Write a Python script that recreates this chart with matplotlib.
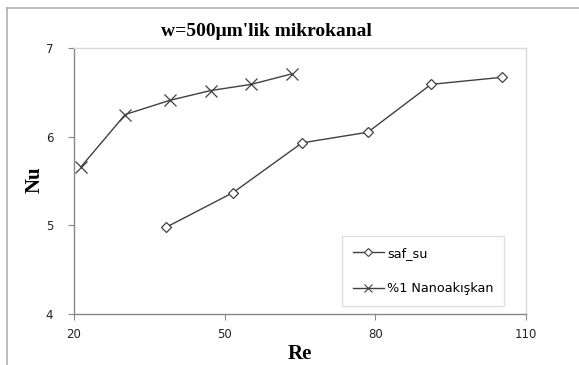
import matplotlib
matplotlib.use('Agg')
import matplotlib.pyplot as plt
from matplotlib.lines import Line2D

# data
re_su = [38.4, 51.7, 65.4, 78.5, 91.1, 105.3]
nu_su = [4.98, 5.37, 5.93, 6.05, 6.59, 6.67]
re_nano = [21.4, 30.2, 39.1, 47.2, 55.3, 63.5]
nu_nano = [5.66, 6.25, 6.41, 6.52, 6.59, 6.71]
x_ticks = [20, 50, 80, 110]
y_ticks = [4, 5, 6, 7]

LINE = '#404040'

fig = plt.figure(figsize=(5.79, 3.65), dpi=100)
ax = fig.add_axes([74/579, 1-314/365, 452/579, 266/365])

ax.plot(re_su, nu_su, color=LINE, lw=1.0, marker='D', ms=5,
        mfc='white', mec=LINE, mew=0.9, label='saf_su')
ax.plot(re_nano, nu_nano, color=LINE, lw=1.0, marker='x', ms=8,
        mec=LINE, mew=0.9, label='%1 Nanoakışkan')

ax.set_xlim(20, 110)
ax.set_ylim(4, 7)
ax.set_xticks(x_ticks)
ax.set_yticks(y_ticks)
ax.tick_params(direction='out', length=4, width=0.8, color='#888888',
               labelsize=8.5, labelcolor='#222222')
ax.tick_params(axis='y', pad=11)
ax.tick_params(axis='x', pad=6)
for s in ['left', 'bottom']:
    ax.spines[s].set_color('#888888')
    ax.spines[s].set_linewidth(1.0)
for s in ['top', 'right']:
    ax.spines[s].set_color('#d8d8d8')
    ax.spines[s].set_linewidth(1.0)

fig.text(300/579, 1-354/365, 'Re', ha='center', va='center',
         fontsize=15, fontweight='bold', family='Liberation Serif')
fig.text(35/579, 1-180/365, 'Nu', ha='center', va='center', rotation=90,
         fontsize=15, fontweight='bold', family='Liberation Serif')
fig.text(266/579, 1-31/365, "w=500μm'lik mikrokanal", ha='center', va='center',
         fontsize=14, fontweight='bold', family='Liberation Serif')

handles = [Line2D([], [], color=LINE, lw=1.0, marker='D', ms=4, mfc='white', mec=LINE, mew=0.8),
           Line2D([], [], color=LINE, lw=1.0, marker='x', ms=6, mec=LINE, mew=0.8)]
leg = ax.legend(handles, ['saf_su', '%1 Nanoakışkan'], loc='lower left',
                bbox_to_anchor=(342/579, 1-306/365, 162/579, 70/365),
                bbox_transform=fig.transFigure, mode='expand', borderaxespad=0,
                fontsize=9.2, labelspacing=1.75, handlelength=2.4, handletextpad=0.3,
                borderpad=0.85, fancybox=False, frameon=True)
leg.get_frame().set_edgecolor('#d8d8d8')
leg.get_frame().set_linewidth(1.0)

# outer chart border (left and top visible)
fig.add_artist(Line2D([7/579, 7/579], [0, 1-8/365], color='#b0b0b0', lw=1.2,
                      transform=fig.transFigure))
fig.add_artist(Line2D([7/579, 1], [1-8/365, 1-8/365], color='#b0b0b0', lw=1.2,
                      transform=fig.transFigure))

fig.savefig('out.png', dpi=100, facecolor='white')
